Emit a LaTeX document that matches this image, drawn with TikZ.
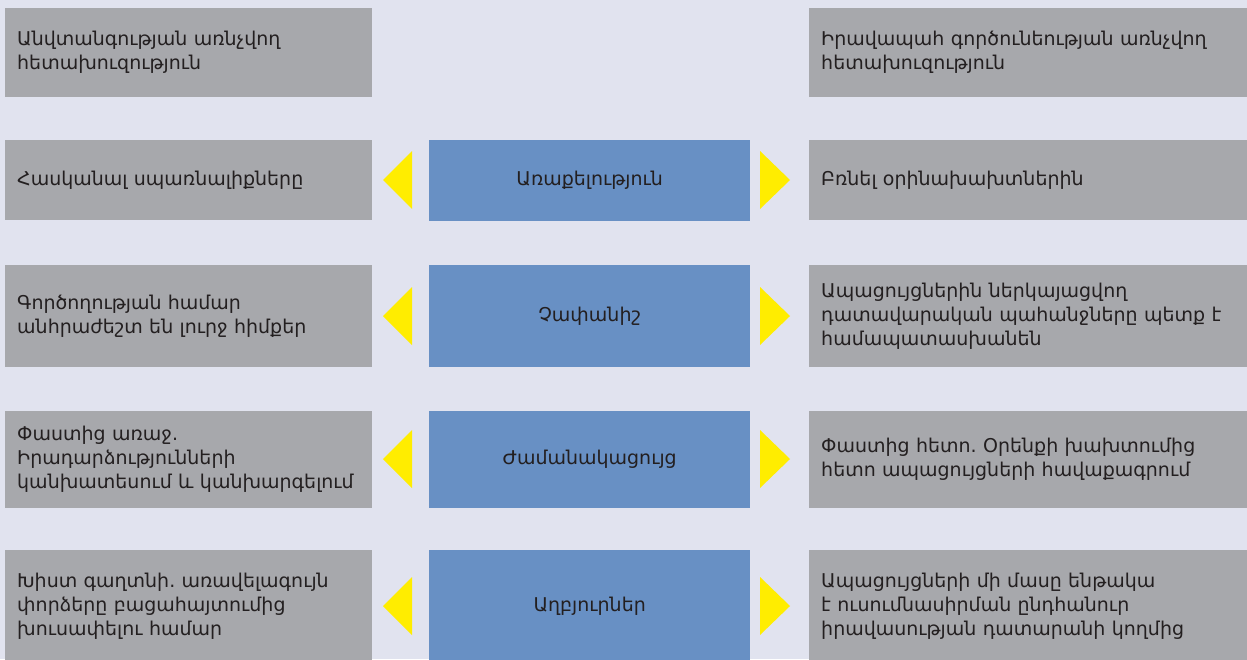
\documentclass[tikz,border=0pt]{standalone}
\usepackage{fontspec}
\setmainfont{DejaVu Sans}
\frenchspacing
\usetikzlibrary{calc}
\definecolor{bgc}{HTML}{E1E3EF}
\definecolor{grayc}{HTML}{A7A8AC}
\definecolor{bluec}{HTML}{6890C4}
\definecolor{yelc}{HTML}{FFED00}
\definecolor{txtc}{HTML}{231F20}
\tikzset{
  gbox/.style={fill=grayc, draw=none, anchor=north west, inner xsep=12pt, inner ysep=0pt, align=left, text=txtc, font=\fontsize{19}{24}\selectfont},
  lbox/.style={gbox, minimum width=367pt, text width=343pt},
  rbox/.style={gbox, minimum width=438pt, text width=414pt},
  bbox/.style={fill=bluec, draw=none, anchor=north west, minimum width=321pt, inner sep=0pt, align=center, text=txtc, font=\fontsize{19}{24}\selectfont},
  arrowtri/.style={fill=yelc, draw=none}
}
\begin{document}
\begin{tikzpicture}[x=1pt,y=-1pt]
\fill[bgc] (0,0) rectangle (1247,659);
\useasboundingbox (0,0) rectangle (1247,659);
% row 1
\node[lbox, minimum height=89pt] (l1) at (5,8) {Անվտանգության առնչվող\\հետախուզություն};
\node[rbox, minimum height=89pt] (r1) at (809,8) {Իրավապահ գործունեության առնչվող\\հետախուզություն};
% row 2
\node[lbox, minimum height=80pt] (l2) at (5,140) {Հասկանալ սպառնալիքները};
\node[bbox, minimum height=81pt] (b2) at (429,140) {Առաքելություն};
\node[rbox, minimum height=80pt] (r2) at (809,140) {Բռնել օրինախախտներին};
% row 3
\node[lbox, minimum height=102pt] (l3) at (5,265) {Գործողության համար\\անհրաժեշտ են լուրջ հիմքեր};
\node[bbox, minimum height=102pt] (b3) at (429,265) {Չափանիշ};
\node[rbox, minimum height=102pt] (r3) at (809,265) {Ապացույցներին ներկայացվող\\դատավարական պահանջները պետք է\\համապատասխանեն};
% row 4
\node[lbox, minimum height=97pt] (l4) at (5,411) {Փաստից առաջ.\\Իրադարձությունների\\կանխատեսում և կանխարգելում};
\node[bbox, minimum height=97pt] (b4) at (429,411) {Ժամանակացույց};
\node[rbox, minimum height=97pt] (r4) at (809,411) {Փաստից հետո. Օրենքի խախտումից\\հետո ապացույցների հավաքագրում};
% row 5
\node[lbox, minimum height=112pt] (l5) at (5,550) {Խիստ գաղտնի. առավելագույն\\փորձերը բացահայտումից\\խուսափելու համար};
\node[bbox, minimum height=112pt] (b5) at (429,550) {Աղբյուրներ};
\node[rbox, minimum height=112pt] (r5) at (809,550) {Ապացույցների մի մասը ենթակա\\է ուսումնասիրման ընդհանուր\\իրավասության դատարանի կողմից};
% triangles
\foreach \r/\yc in {2/180,3/316,4/459,5/606}{
  \fill[arrowtri] (412,\yc-29) -- (383,\yc) -- (412,\yc+29) -- cycle;
  \fill[arrowtri] (760,\yc-29) -- (790,\yc) -- (760,\yc+29) -- cycle;
}
\end{tikzpicture}
\end{document}
